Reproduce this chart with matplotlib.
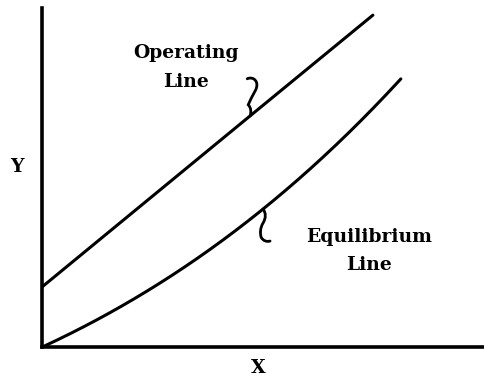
import matplotlib.pyplot as plt
import matplotlib.transforms as mtransforms
from matplotlib.path import Path
from matplotlib.patches import PathPatch
import numpy as np

# values (axis units 0-10, no ticks shown)
x_operating = [0.0, 4.70, 7.47]
y_operating = [1.77, 6.82, 9.79]

x_equilibrium = [0.0, 2.05, 3.12, 3.57, 4.31, 4.99, 6.28, 6.66, 7.02, 7.40, 7.79, 8.10]
y_equilibrium = [0.0, 1.39, 2.27, 2.65, 3.39, 4.10, 5.58, 5.96, 6.40, 6.90, 7.49, 7.94]

label_font = dict(family="DejaVu Serif", fontweight="bold", fontsize=13.5)

fig = plt.figure(figsize=(4.85, 3.83), dpi=100)
ax = fig.add_axes([42 / 485, 36 / 383, 443 / 485, 339 / 383])
ax.set_xlim(0, 10)
ax.set_ylim(0, 10)

ax.plot(x_operating, y_operating, color="black", lw=2.2, solid_capstyle="round")

# the drawn curve is smooth, so pass a cubic through the read points
coef = np.polyfit(x_equilibrium, y_equilibrium, 3)
xs = np.linspace(x_equilibrium[0], x_equilibrium[-1], 200)
ax.plot(xs, np.polyval(coef, xs), color="black", lw=2.2, solid_capstyle="round")

for s in ["top", "right"]:
    ax.spines[s].set_visible(False)
for s in ["left", "bottom"]:
    ax.spines[s].set_linewidth(2.6)
ax.set_xticks([])
ax.set_yticks([])

ax.text(3.25, 8.24, "Operating\nLine", ha="center", va="center", linespacing=1.75, **label_font)
ax.text(7.38, 2.83, "Equilibrium\nLine", ha="center", va="center", linespacing=1.75, **label_font)

fig.text(17 / 485, 1 - 167 / 383, "Y", ha="center", va="center", **label_font)
fig.text(258 / 485, 1 - 368 / 383, "X", ha="center", va="center", **label_font)


def brace(x_anchor, fx, verts):
    # small curly tick hanging off a curve, verts in pixels relative to the anchor
    y_anchor = fx(x_anchor)
    trans = fig.dpi_scale_trans + mtransforms.ScaledTranslation(x_anchor, y_anchor, ax.transData)
    codes = [Path.MOVETO] + [Path.CURVE4] * (len(verts) - 1)
    p = Path(np.array(verts) * 0.01, codes)
    ax.add_patch(PathPatch(p, transform=trans, fill=False, lw=2.0, edgecolor="black",
                           capstyle="round", clip_on=False))


brace(4.70, lambda x: np.interp(x, x_operating, y_operating),
      [(-3, 37), (3, 40), (10, 34), (5, 25),
       (2, 20), (0, 15), (-2, 11),
       (1, 8), (1, 4), (0, 0)])
brace(4.99, lambda x: np.polyval(coef, x),
      [(0, 0), (3, -4), (3, -9), (0, -14),
       (-3, -19), (-3, -24), (-2, -28),
       (0, -32), (4, -33), (7, -32)])

fig.savefig("out.png", dpi=100)
